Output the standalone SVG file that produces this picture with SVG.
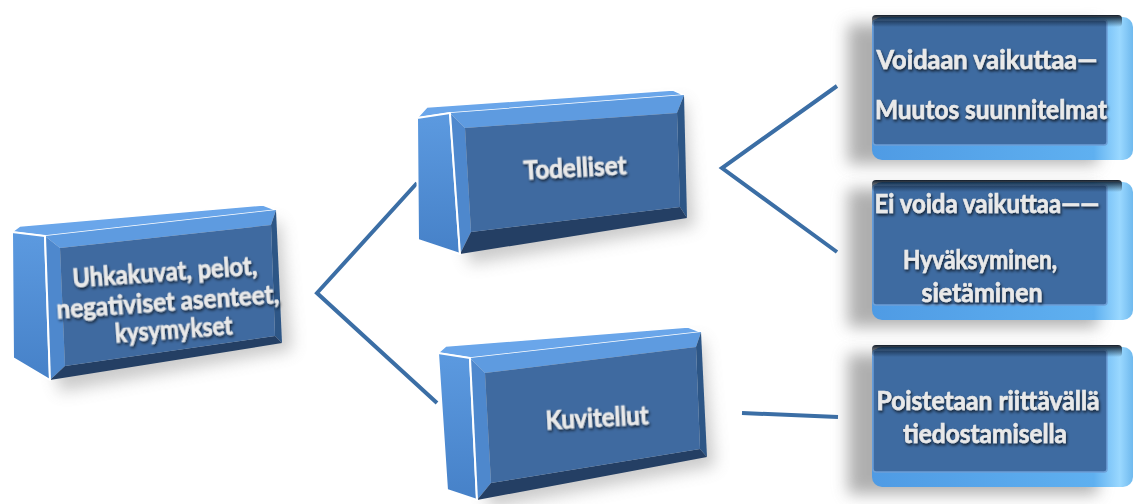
<svg xmlns="http://www.w3.org/2000/svg" width="1141" height="504" viewBox="0 0 1141 504">
  <style>
    .side { fill: url(#sideGrad); stroke: #ffffff; stroke-width: 2; stroke-linejoin: round; }
    .top { fill: #6aa6ea; stroke: #ffffff; stroke-width: 1.5; stroke-linejoin: round; }
    .bev-t { fill: #5e9be0; }
    .bev-l { fill: #4e88cd; }
    .bev-r { fill: #2d5686; }
    .bev-b { fill: #243f64; }
    .face { fill: #3f6aa0; }
    .edge { fill: none; stroke: #ffffff; stroke-width: 2; }
    .lbl { font-family: Lato, "Open Sans", "Liberation Sans", sans-serif; font-weight: 700; font-size: 27px; fill: #e9e9e9; stroke: #e9e9e9; stroke-width: 0.6; text-anchor: middle; filter: url(#txtShadow); }
    .conn { fill: none; stroke: #3b6ea5; stroke-width: 4; stroke-linejoin: miter; }
    .soft { fill: #8a8a8a; opacity: 0.45; filter: url(#blur8); }
    .rsoft { fill: #7a7a7a; opacity: 0.6; filter: url(#blur8); }
    .rbody { fill: url(#rimGrad); }
    .rface { fill: #3e6ba1; stroke: #6e9fd6; stroke-width: 1.5; }
    .rtop { fill: url(#topDark); }
  </style>
  <defs>
    <filter id="txtShadow" x="-10%" y="-30%" width="120%" height="170%">
      <feDropShadow dx="1" dy="2" stdDeviation="1.5" flood-color="#000000" flood-opacity="0.75"/>
    </filter>
    <filter id="blur8" x="-20%" y="-20%" width="140%" height="140%">
      <feGaussianBlur stdDeviation="8"/>
    </filter>
    <linearGradient id="sideGrad" x1="0" y1="0" x2="0" y2="1">
      <stop offset="0" stop-color="#5c9ae0"/>
      <stop offset="1" stop-color="#4681c8"/>
    </linearGradient>
    <linearGradient id="rimGrad" x1="0" y1="0" x2="1" y2="0">
      <stop offset="0" stop-color="#4f9be4"/>
      <stop offset="0.85" stop-color="#5fb0f0"/>
      <stop offset="0.95" stop-color="#9ad8ff"/>
      <stop offset="1" stop-color="#6fb9ee"/>
    </linearGradient>
    <linearGradient id="topDark" x1="0" y1="0" x2="0" y2="1">
      <stop offset="0" stop-color="#05101e" stop-opacity="0.95"/>
      <stop offset="1" stop-color="#05101e" stop-opacity="0"/>
    </linearGradient>
  </defs>

  <rect width="1141" height="504" fill="#ffffff"/>

  <!-- connectors -->
  <g id="connectors">
    <polyline class="conn" points="417,183 317,293 437,403"/>
    <polyline class="conn" points="837,86 722,168 837,252"/>
    <line class="conn" x1="742" y1="413" x2="838" y2="417"/>
  </g>

  <!-- root box -->
  <g id="node-root">
    <polygon class="soft" points="30,250 280,222 292,350 60,392"/>
    <polygon class="top" points="12,232 20,226 263,205 276,210 45,236"/>
    <polygon class="side" points="12,232 45,236 50,380 13,358"/>
    <polygon class="bev-t" points="45,236 276,210 271,225 60,248"/>
    <polygon class="bev-l" points="45,236 60,248 65,366 50,380"/>
    <polygon class="bev-r" points="276,210 282,343 275,336 271,225"/>
    <polygon class="bev-b" points="50,380 65,366 275,336 282,343"/>
    <polygon class="face" points="60,248 271,225 275,336 65,366"/>
    <line class="edge" x1="45" y1="236" x2="50" y2="380"/>
    <g transform="rotate(-4 167 305)">
      <text class="lbl" x="167" y="281" textLength="185" lengthAdjust="spacingAndGlyphs">Uhkakuvat, pelot,</text>
      <text class="lbl" x="168" y="311" textLength="223" lengthAdjust="spacingAndGlyphs">negativiset asenteet,</text>
      <text class="lbl" x="172" y="339" textLength="118" lengthAdjust="spacingAndGlyphs">kysymykset</text>
    </g>
  </g>

  <!-- Todelliset -->
  <g id="node-todelliset">
    <polygon class="soft" points="435,125 685,102 695,226 470,264"/>
    <polygon class="top" points="417,118 427,107 673,90 684,95 450,113"/>
    <polygon class="side" points="417,118 450,113 460,254 418,240"/>
    <polygon class="bev-t" points="450,113 684,95 677,113 465,128"/>
    <polygon class="bev-l" points="450,113 465,128 471,232 460,254"/>
    <polygon class="bev-r" points="684,95 687,218 680,207 677,113"/>
    <polygon class="bev-b" points="460,254 471,232 680,207 687,218"/>
    <polygon class="face" points="465,128 677,113 680,207 471,232"/>
    <line class="edge" x1="450" y1="113" x2="460" y2="254"/>
    <text class="lbl" x="575" y="177" textLength="103" lengthAdjust="spacingAndGlyphs" transform="rotate(-3 575 168)">Todelliset</text>
  </g>

  <!-- Kuvitellut -->
  <g id="node-kuvitellut">
    <polygon class="soft" points="455,370 703,340 715,466 490,508"/>
    <polygon class="top" points="438,353 446,346 688,327 701,332 470,358"/>
    <polygon class="side" points="438,353 470,358 477,500 447,490"/>
    <polygon class="bev-t" points="470,358 701,332 696,347 485,373"/>
    <polygon class="bev-l" points="470,358 485,373 491,483 477,500"/>
    <polygon class="bev-r" points="701,332 707,457 700,449 696,347"/>
    <polygon class="bev-b" points="477,500 491,483 700,449 707,457"/>
    <polygon class="face" points="485,373 696,347 700,449 491,483"/>
    <line class="edge" x1="470" y1="358" x2="477" y2="500"/>
    <text class="lbl" x="597" y="427" textLength="103" lengthAdjust="spacingAndGlyphs" transform="rotate(-3 597 418)">Kuvitellut</text>
  </g>

  <!-- Voidaan vaikuttaa -->
  <g id="node-voidaan">
    <rect class="rsoft" x="848" y="24" width="250" height="140"/>
    <rect class="rbody" x="872" y="17" width="261" height="143" rx="10"/>
    <rect class="rface" x="873" y="20" width="234" height="125" rx="3"/>
    <rect class="rtop" x="872" y="15" width="250" height="12" rx="4"/>
    <text class="lbl" x="987" y="69" textLength="221" lengthAdjust="spacingAndGlyphs">Voidaan vaikuttaa—</text>
    <text class="lbl" x="991" y="119" textLength="232" lengthAdjust="spacingAndGlyphs">Muutos suunnitelmat</text>
  </g>

  <!-- Ei voida vaikuttaa -->
  <g id="node-eivoida">
    <rect class="rsoft" x="848" y="189" width="250" height="138"/>
    <rect class="rbody" x="872" y="182" width="261" height="138" rx="10"/>
    <rect class="rface" x="873" y="185" width="234" height="120" rx="3"/>
    <rect class="rtop" x="872" y="180" width="250" height="12" rx="4"/>
    <text class="lbl" x="987" y="213" textLength="225" lengthAdjust="spacingAndGlyphs">Ei voida vaikuttaa——</text>
    <text class="lbl" x="980" y="269" textLength="154" lengthAdjust="spacingAndGlyphs">Hyväksyminen,</text>
    <text class="lbl" x="982" y="302" textLength="121" lengthAdjust="spacingAndGlyphs">sietäminen</text>
  </g>

  <!-- Poistetaan -->
  <g id="node-poistetaan">
    <rect class="rsoft" x="848" y="354" width="250" height="140"/>
    <rect class="rbody" x="872" y="347" width="261" height="140" rx="10"/>
    <rect class="rface" x="873" y="350" width="234" height="122" rx="3"/>
    <rect class="rtop" x="872" y="345" width="250" height="12" rx="4"/>
    <text class="lbl" x="988" y="410" textLength="223" lengthAdjust="spacingAndGlyphs">Poistetaan riittävällä</text>
    <text class="lbl" x="985" y="443" textLength="164" lengthAdjust="spacingAndGlyphs">tiedostamisella</text>
  </g>
</svg>
